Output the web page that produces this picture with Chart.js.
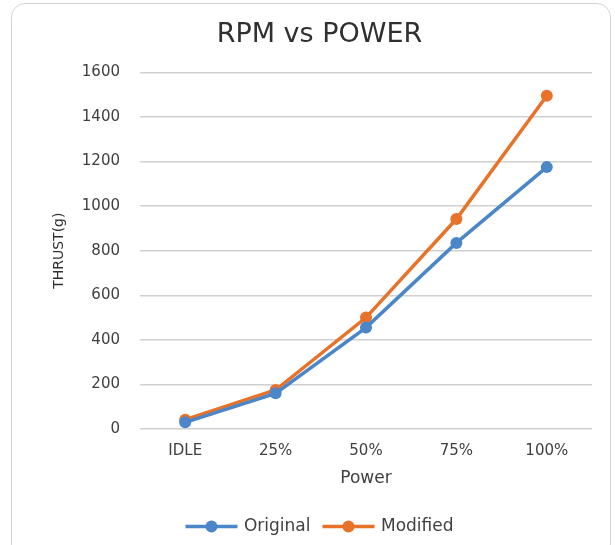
<!DOCTYPE html>
<html>
<head>
<meta charset="utf-8">
<script src="https://cdn.jsdelivr.net/npm/chart.js@4/dist/chart.umd.min.js"></script>
<style>
  html, body { margin: 0; padding: 0; background: #ffffff; }
  #wrap { position: relative; width: 615px; height: 545px; overflow: hidden; }
  #frame { position: absolute; left: 11px; top: 3px; width: 600px; height: 555px;
           border: 1.5px solid #d4d4d4; border-radius: 14px; box-sizing: border-box; }
  canvas { position: absolute; left: 0; top: 0; }
</style>
</head>
<body>
<div id="wrap">
  <div id="frame"></div>
  <canvas id="c" width="615" height="545"></canvas>
</div>
<script>
const categories = ["IDLE", "25%", "50%", "75%", "100%"];
const originalValues = [30, 160, 455, 835, 1175];
const modifiedValues = [42, 175, 500, 942, 1495];
const yTicks = [0, 200, 400, 600, 800, 1000, 1200, 1400, 1600];

const textColor = "#404040";
const fontFamily = "'DejaVu Sans', 'Liberation Sans', sans-serif";

new Chart(document.getElementById("c"), {
  type: "line",
  data: {
    labels: categories,
    datasets: [
      {
        label: "Original",
        data: originalValues,
        borderColor: "#4a86c8",
        backgroundColor: "#4a86c8",
        borderWidth: 3.5,
        pointRadius: 6,
        pointHoverRadius: 6,
        pointBorderWidth: 0,
        tension: 0
      },
      {
        label: "Modified",
        data: modifiedValues,
        borderColor: "#e8722a",
        backgroundColor: "#e8722a",
        borderWidth: 3.5,
        pointRadius: 6,
        pointHoverRadius: 6,
        pointBorderWidth: 0,
        tension: 0
      }
    ]
  },
  options: {
    responsive: false,
    animation: false,
    devicePixelRatio: 1,
    layout: { padding: { left: 47, right: 23, top: 0, bottom: 0 } },
    plugins: {
      title: {
        display: true,
        text: "RPM vs POWER",
        color: "#303030",
        font: { family: fontFamily, size: 27, weight: "normal" },
        padding: { top: 19, bottom: 21 }
      },
      legend: {
        display: true,
        position: "bottom",
        labels: {
          color: textColor,
          font: { family: fontFamily, size: 17 },
          boxWidth: 50,
          boxHeight: 4,
          padding: 12,
          generateLabels: (chart) => chart.data.datasets.map((ds, i) => ({
            text: ds.label,
            fillStyle: "rgba(0,0,0,0)",
            strokeStyle: "rgba(0,0,0,0)",
            lineWidth: 0,
            hidden: false,
            datasetIndex: i,
            fontColor: textColor
          }))
        }
      },
      tooltip: { enabled: false }
    },
    scales: {
      x: {
        offset: true,
        grid: { display: false, drawTicks: false },
        border: { display: false },
        ticks: { color: textColor, font: { family: fontFamily, size: 15 }, padding: 13 },
        title: {
          display: true,
          text: "Power",
          color: textColor,
          font: { family: fontFamily, size: 17 },
          padding: { top: 0, bottom: 17 }
        },
        afterFit: (s) => { s.height = 77; }
      },
      y: {
        min: 0,
        max: 1600,
        afterBuildTicks: (s) => { s.ticks = yTicks.map(v => ({ value: v })); },
        grid: { color: "#d0d0d0", lineWidth: 1.5, drawTicks: false },
        border: { display: false },
        ticks: {
          color: textColor,
          font: { family: fontFamily, size: 15 },
          padding: 20,
          callback: (v) => String(v)
        },
        title: {
          display: true,
          text: "THRUST(g)",
          color: "#303030",
          font: { family: fontFamily, size: 14 },
          padding: { top: 4, bottom: 4 }
        },
        afterFit: (s) => { s.width = 93; }
      }
    }
  },
  plugins: [{
    id: "legendLines",
    afterDraw(chart) {
      const legend = chart.legend;
      if (!legend || !legend.legendHitBoxes) return;
      const ctx = chart.ctx;
      legend.legendHitBoxes.forEach((box, i) => {
        const ds = chart.data.datasets[i];
        const y = box.top + box.height / 2;
        const x1 = box.left, x2 = box.left + 52;
        ctx.save();
        ctx.strokeStyle = ds.borderColor;
        ctx.lineWidth = 3.5;
        ctx.beginPath(); ctx.moveTo(x1, y); ctx.lineTo(x2, y); ctx.stroke();
        ctx.fillStyle = ds.borderColor;
        ctx.beginPath(); ctx.arc((x1 + x2) / 2, y, 6, 0, Math.PI * 2); ctx.fill();
        ctx.restore();
      });
    }
  }]
});
</script>
</body>
</html>
